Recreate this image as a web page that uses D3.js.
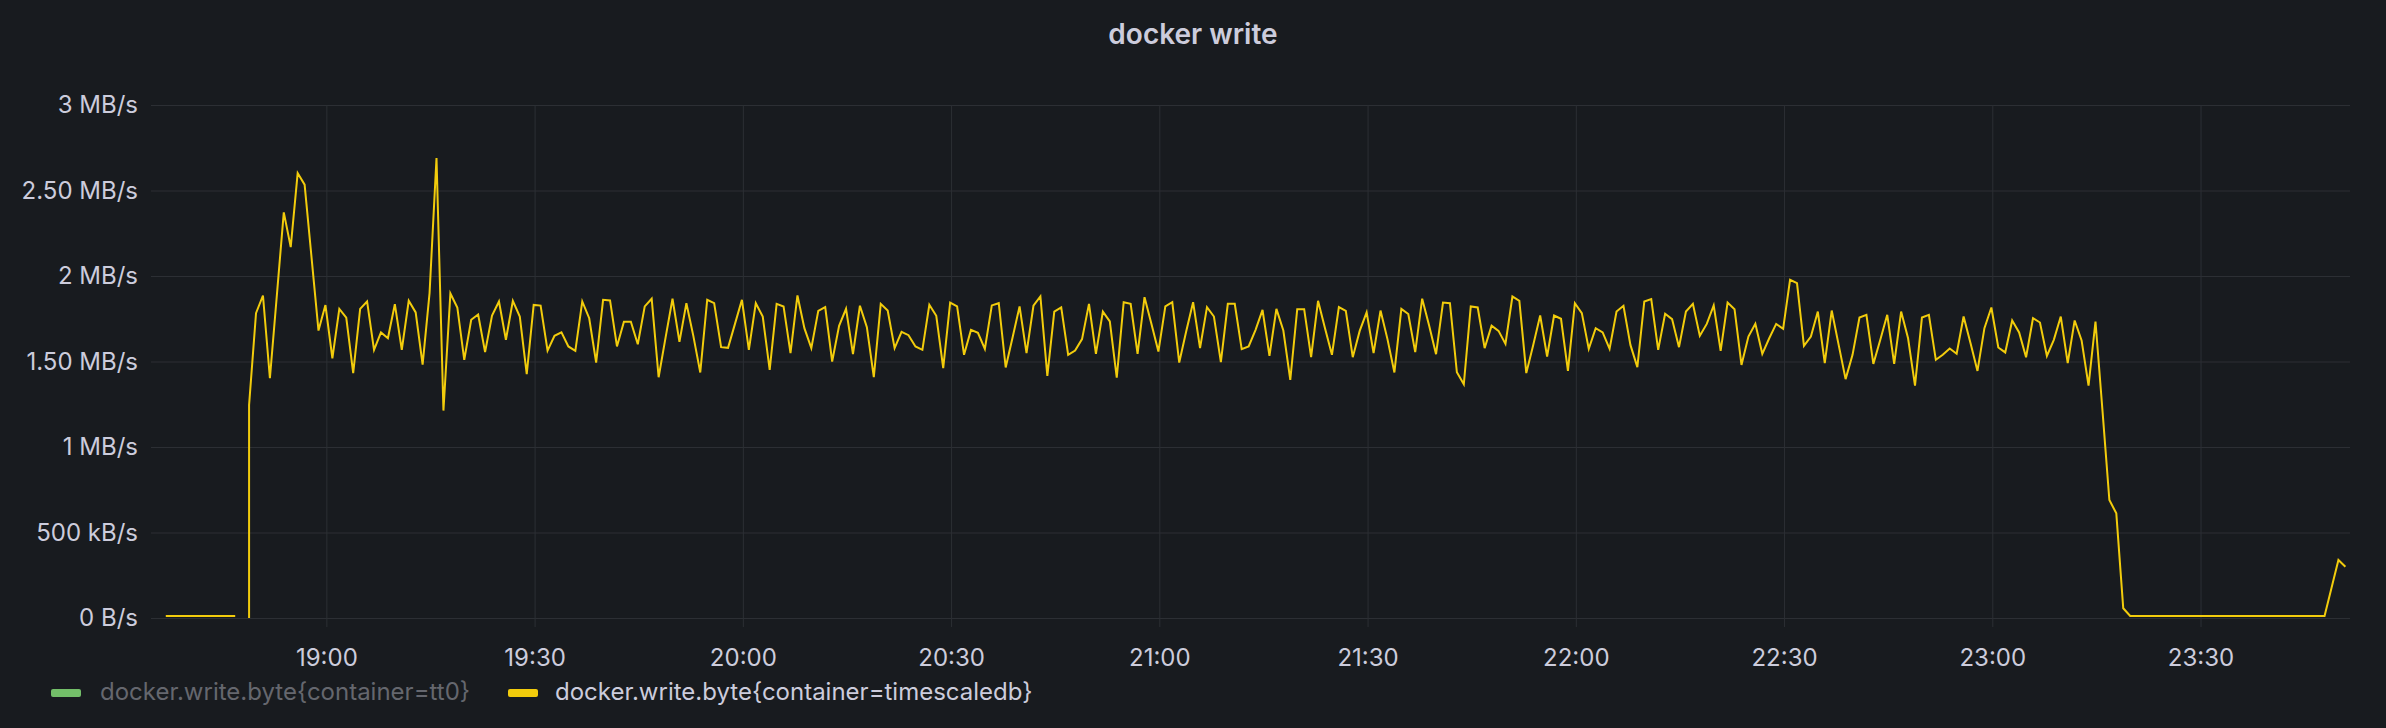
<!DOCTYPE html>
<html>
<head>
<meta charset="utf-8">
<script src="https://cdn.jsdelivr.net/npm/d3@7"></script>
<style>
  html, body { margin: 0; padding: 0; background: #181b1f; }
  svg { display: block; }
</style>
</head>
<body>
<svg id="chart" width="2386" height="728"></svg>
<script>
// ---------- data ----------
const chartTitle = "docker write";
const seriesNames = ["docker.write.byte{container=tt0}", "docker.write.byte{container=timescaledb}"];
const seriesColors = ["#73BF69", "#F2CC0C"];
const seriesHidden = [true, false];

const rangeStart = "2023-01-01T18:36:02";
const rangeEnd = "2023-01-01T23:51:32";
const firstSample = "2023-01-01T18:36:52";
const stepSeconds = 60;

const yTickValues = [0, 0.5, 1, 1.5, 2, 2.5, 3];              // MB/s
const yTickLabels = ["0 B/s", "500 kB/s", "1 MB/s", "1.50 MB/s", "2 MB/s", "2.50 MB/s", "3 MB/s"];
const xTickLabels = ["19:00", "19:30", "20:00", "20:30", "21:00", "21:30", "22:00", "22:30", "23:00", "23:30"];

// timescaledb write rate, MB/s, one sample per minute (null = no data)
const timescaledbValues = [
  0.012, 0.012, 0.012, 0.012, 0.012, 0.012, 0.012, 0.012, 0.012, 0.012,
  0.012, null, 1.246, 1.783, 1.886, 1.402, 1.887, 2.372, 2.169, 2.602,
  2.534, 2.108, 1.681, 1.830, 1.519, 1.808, 1.757, 1.432, 1.808, 1.851,
  1.568, 1.670, 1.636, 1.835, 1.568, 1.855, 1.787, 1.482, 1.900, 2.690,
  1.213, 1.898, 1.816, 1.510, 1.744, 1.775, 1.555, 1.769, 1.851, 1.627,
  1.855, 1.763, 1.426, 1.831, 1.827, 1.564, 1.650, 1.670, 1.588, 1.562,
  1.851, 1.753, 1.494, 1.861, 1.857, 1.588, 1.732, 1.732, 1.601, 1.822,
  1.867, 1.408, 1.640, 1.867, 1.615, 1.841, 1.650, 1.436, 1.861, 1.841,
  1.584, 1.580, 1.720, 1.861, 1.568, 1.841, 1.763, 1.451, 1.837, 1.822,
  1.549, 1.886, 1.695, 1.578, 1.796, 1.818, 1.500, 1.709, 1.808, 1.543,
  1.826, 1.701, 1.408, 1.837, 1.798, 1.578, 1.673, 1.654, 1.588, 1.568,
  1.832, 1.767, 1.461, 1.845, 1.822, 1.539, 1.685, 1.668, 1.574, 1.828,
  1.841, 1.465, 1.642, 1.822, 1.549, 1.826, 1.880, 1.416, 1.792, 1.816,
  1.539, 1.564, 1.631, 1.837, 1.545, 1.792, 1.734, 1.406, 1.847, 1.837,
  1.545, 1.876, 1.720, 1.558, 1.822, 1.847, 1.494, 1.675, 1.847, 1.578,
  1.818, 1.763, 1.496, 1.837, 1.837, 1.572, 1.588, 1.685, 1.802, 1.533,
  1.808, 1.681, 1.393, 1.806, 1.806, 1.525, 1.855, 1.695, 1.539, 1.818,
  1.796, 1.525, 1.679, 1.787, 1.549, 1.798, 1.631, 1.436, 1.808, 1.778,
  1.555, 1.867, 1.711, 1.543, 1.845, 1.841, 1.437, 1.367, 1.822, 1.816,
  1.578, 1.709, 1.679, 1.603, 1.880, 1.855, 1.432, 1.597, 1.769, 1.529,
  1.769, 1.750, 1.445, 1.841, 1.783, 1.574, 1.695, 1.670, 1.574, 1.792,
  1.826, 1.597, 1.467, 1.851, 1.865, 1.568, 1.779, 1.748, 1.584, 1.792,
  1.837, 1.650, 1.720, 1.828, 1.562, 1.845, 1.806, 1.480, 1.646, 1.720,
  1.545, 1.636, 1.720, 1.691, 1.978, 1.958, 1.592, 1.646, 1.792, 1.490,
  1.798, 1.597, 1.397, 1.539, 1.757, 1.773, 1.486, 1.627, 1.773, 1.486,
  1.792, 1.636, 1.359, 1.757, 1.773, 1.510, 1.539, 1.576, 1.545, 1.763,
  1.607, 1.445, 1.695, 1.816, 1.582, 1.553, 1.740, 1.670, 1.525, 1.753,
  1.728, 1.533, 1.627, 1.763, 1.490, 1.740, 1.623, 1.359, 1.734, 1.217,
  0.690, 0.612, 0.057, 0.012, 0.012, 0.012, 0.012, 0.012, 0.012, 0.012,
  0.012, 0.012, 0.012, 0.012, 0.012, 0.012, 0.012, 0.012, 0.012, 0.012,
  0.012, 0.012, 0.012, 0.012, 0.012, 0.012, 0.012, 0.012, 0.012, 0.012,
  0.012, 0.012, 0.175, 0.339, 0.300
];
// sample indices where the series restarts from 0 at the same timestamp
const restartFromZeroAt = [12];

// ---------- layout ----------
const W = 2386, H = 728;
const plot = { left: 160, right: 2350, top: 105, bottom: 618, gridLeft: 151, tickLen: 9 };
const bg = "#181b1f", textColor = "#ccccdc", dimText = "#65676e", gridColor = "#2c2f34";
const font = "Inter, 'Noto Sans', Roboto, sans-serif";

const svg = d3.select("#chart");
svg.append("rect").attr("width", W).attr("height", H).attr("fill", bg);

const parse = d3.isoParse;
const x = d3.scaleTime().domain([parse(rangeStart), parse(rangeEnd)]).range([plot.left, plot.right]);
const y = d3.scaleLinear().domain([0, 3]).range([plot.bottom, plot.top]);

// title
svg.append("text")
  .attr("x", W / 2).attr("y", 44)
  .attr("text-anchor", "middle")
  .attr("font-family", font).attr("font-size", 28).attr("font-weight", 600)
  .attr("fill", textColor)
  .text(chartTitle);

// horizontal grid + y labels
const yAxis = d3.axisLeft(y).tickValues(yTickValues)
  .tickSize(-(plot.right - plot.gridLeft))
  .tickPadding(13)
  .tickFormat((d, i) => yTickLabels[i]);
const gy = svg.append("g").attr("transform", `translate(${plot.gridLeft},0)`).call(yAxis);
gy.select(".domain").remove();
gy.selectAll(".tick line").attr("stroke", gridColor).attr("stroke-width", 1);
gy.selectAll(".tick text")
  .attr("font-family", font).attr("font-size", 24).attr("fill", textColor);

// vertical grid + x labels
const dayPrefix = rangeStart.slice(0, 11);
const xTickDates = xTickLabels.map(l => parse(dayPrefix + l + ":00"));
const xAxis = d3.axisBottom(x).tickValues(xTickDates)
  .tickSize(-(plot.bottom - plot.top))
  .tickPadding(22)
  .tickFormat((d, i) => xTickLabels[i]);
const gx = svg.append("g").attr("transform", `translate(0,${plot.bottom + plot.tickLen})`).call(xAxis);
gx.select(".domain").remove();
gx.selectAll(".tick line").attr("stroke", gridColor).attr("stroke-width", 1)
  .attr("y1", 0).attr("y2", -(plot.bottom - plot.top + plot.tickLen));
gx.selectAll(".tick text")
  .attr("font-family", font).attr("font-size", 24).attr("fill", textColor);

// series line
const t0 = parse(firstSample).getTime();
const points = [];
timescaledbValues.forEach((v, i) => {
  const t = new Date(t0 + i * stepSeconds * 1000);
  if (restartFromZeroAt.includes(i)) points.push({ t, v: 0 });
  points.push({ t, v });
});
const line = d3.line()
  .defined(d => d.v !== null)
  .x(d => x(d.t))
  .y(d => y(d.v));
svg.append("path")
  .datum(points)
  .attr("fill", "none")
  .attr("stroke", seriesColors[1])
  .attr("stroke-width", 2)
  .attr("d", line);

// legend
const legendItems = [
  { swatchX: 51, textX: 100 },
  { swatchX: 508, textX: 555 }
];
legendItems.forEach((p, i) => {
  svg.append("rect")
    .attr("x", p.swatchX).attr("y", 689).attr("width", 30).attr("height", 8).attr("rx", 2)
    .attr("fill", seriesColors[i]);
  svg.append("text")
    .attr("x", p.textX).attr("y", 700)
    .attr("font-family", font).attr("font-size", 24)
    .attr("fill", seriesHidden[i] ? dimText : textColor)
    .text(seriesNames[i]);
});
</script>
</body>
</html>
